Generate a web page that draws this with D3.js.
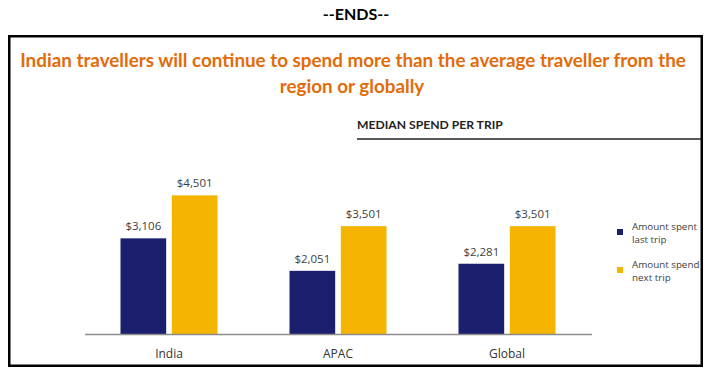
<!DOCTYPE html>
<html><head><meta charset="utf-8">
<script src="https://cdn.jsdelivr.net/npm/d3@7"></script>
<style>body{margin:0;background:#fff}svg{display:block}</style>
</head><body>
<script>
const categories = ["India", "APAC", "Global"];
const seriesNames = ["Amount spent last trip", "Amount spend next trip"];
const legendLines = [["Amount spent", "last trip"], ["Amount spend", "next trip"]];
const lastTrip = [3106, 2051, 2281];
const nextTrip = [4501, 3501, 3501];
const colors = ["#1b1f6e", "#f5b400"];

const W = 711, H = 374;
const svg = d3.select("body").append("svg").attr("width", W).attr("height", H);
const font = "Lato, 'Open Sans', sans-serif";

function fitText(sel, target, base) {
  const len = sel.node().getComputedTextLength();
  sel.attr("font-size", base * target / len);
}

svg.append("text").attr("x", 356).attr("y", 20).attr("text-anchor", "middle")
  .attr("font-family", font).attr("font-weight", "bold").attr("font-size", 16)
  .attr("fill", "#000").text("--ENDS--");

svg.append("rect").attr("x", 9.25).attr("y", 36.25).attr("width", 692.5).attr("height", 329.5)
  .attr("fill", "none").attr("stroke", "#000").attr("stroke-width", 2.5);

const t1 = svg.append("text").attr("x", 353).attr("y", 67).attr("text-anchor", "middle")
  .attr("font-family", font).attr("font-weight", "bold").attr("font-size", 20)
  .attr("fill", "#e26b0a")
  .text("Indian travellers will continue to spend more than the average traveller from the");
fitText(t1, 666, 20);
svg.append("text").attr("x", 352).attr("y", 93).attr("text-anchor", "middle")
  .attr("font-family", font).attr("font-weight", "bold").attr("font-size", t1.attr("font-size"))
  .attr("fill", "#e26b0a")
  .text("region or globally");

const t2 = svg.append("text").attr("x", 357).attr("y", 129)
  .attr("font-family", font).attr("font-weight", "bold").attr("font-size", 13.5)
  .attr("fill", "#222")
  .text("MEDIAN SPEND PER TRIP");
fitText(t2, 146, 13.5);
svg.append("line").attr("x1", 357).attr("x2", 701).attr("y1", 139).attr("y2", 139)
  .attr("stroke", "#222").attr("stroke-width", 1.5);

const x0 = d3.scaleBand().domain(categories).range([84.5, 591.5]).paddingInner(0.426).paddingOuter(0.213);
const x1 = d3.scaleBand().domain([0, 1]).range([0, x0.bandwidth()]).paddingInner(0.11);
const y = d3.scaleLinear().domain([0, 5000]).range([334, 180]);

const data = categories.map((c, i) => ({cat: c, vals: [lastTrip[i], nextTrip[i]]}));
const g = svg.append("g");
const groups = g.selectAll("g.grp").data(data).join("g").attr("class", "grp")
  .attr("transform", d => `translate(${x0(d.cat)},0)`);
groups.selectAll("rect").data(d => d.vals.map((v, k) => ({v, k}))).join("rect")
  .attr("x", d => x1(d.k)).attr("width", x1.bandwidth())
  .attr("y", d => y(d.v)).attr("height", d => y(0) - y(d.v))
  .attr("fill", d => colors[d.k]);
groups.selectAll("text").data(d => d.vals.map((v, k) => ({v, k}))).join("text")
  .attr("x", d => x1(d.k) + x1.bandwidth() / 2).attr("y", d => y(d.v) - 8)
  .attr("text-anchor", "middle").attr("font-family", "'Open Sans', sans-serif").attr("font-size", 11.5)
  .attr("fill", "#404040").text(d => "$" + d3.format(",")(d.v));

const xAxis = g.append("g").attr("transform", `translate(0,${y(0)})`)
  .call(d3.axisBottom(x0).tickSize(0).tickPadding(15));
xAxis.select(".domain").attr("stroke", "#8c8c8c").attr("stroke-width", 1.5);
xAxis.selectAll("text").attr("font-family", "'Open Sans', sans-serif").attr("font-size", 12).attr("fill", "#333");

const leg = svg.append("g");
const legY = [229, 267];
seriesNames.forEach((s, k) => {
  leg.append("rect").attr("x", 617).attr("y", legY[k]).attr("width", 6).attr("height", 6).attr("fill", colors[k]);
  legendLines[k].forEach((t, j) => {
    leg.append("text").attr("x", 632).attr("y", legY[k] + 1 + j * 13)
      .attr("font-family", "'Open Sans', sans-serif").attr("font-size", 9.8).attr("fill", "#404040").text(t);
  });
});
</script>
</body></html>
